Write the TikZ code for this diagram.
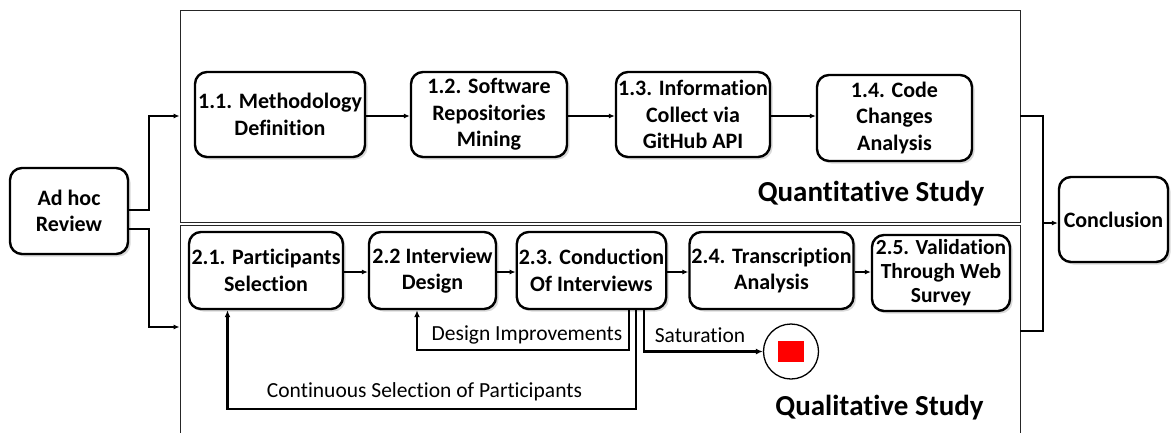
\documentclass[tikz,border=0pt]{standalone}
\usepackage{fontspec}
\setmainfont{Carlito}[RawFeature={-liga;-clig;-calt;-dlig}]
\usetikzlibrary{arrows.meta,shadows}
\begin{document}
\begin{tikzpicture}[x=1pt,y=-1pt,
  stepbox/.style={draw, line width=2.4pt, rounded corners=12pt, align=center, fill=white, inner sep=2pt,
     font=\fontsize{22}{26.5}\selectfont\bfseries,
     drop shadow={shadow xshift=2.5pt,shadow yshift=-2.5pt,opacity=0.3}},
  study/.style={draw=black!85, line width=0.9pt, inner sep=0pt},
  conn/.style={line width=1.1pt, -{Latex[length=6pt,width=5pt]}},
  plainline/.style={line width=1.1pt},
  loopline/.style={line width=2.2pt, -{Latex[length=7pt,width=6pt]}},
  lbl/.style={font=\fontsize{21.5}{26}\selectfont, inner sep=0pt},
  studytitle/.style={font=\fontsize{29}{34}\selectfont\bfseries, inner sep=0pt}
]
\useasboundingbox (0,0) rectangle (1171,432);

% study containers
\node[study, minimum width=840pt, minimum height=212pt] (quant) at (600,116) {};
\node[study, minimum width=840pt, minimum height=216pt] (qual) at (600,333) {};
\node[studytitle] (qtitle) at (871,194) {Quantitative Study};
\node[studytitle] (ltitle) at (879.5,408) {Qualitative Study};

% outer steps
\node[stepbox, minimum width=118pt, minimum height=86pt] (adhoc) at (69,211) {Ad hoc\\Review};
\node[stepbox, minimum width=109pt, minimum height=85pt] (concl) at (1113.5,219.5) {Conclusion};

% quantitative steps
\node[stepbox, minimum width=170pt, minimum height=85pt] (b11) at (280,114.5) {1.1. Methodology\\Definition};
\node[stepbox, minimum width=156pt, minimum height=85pt] (b12) at (489,114.5) {1.2. Software\\Repositories\\Mining};
\node[stepbox, minimum width=154pt, minimum height=85pt] (b13) at (693,114.5) {1.3. Information\\Collect via\\GitHub API};
\node[stepbox, minimum width=155pt, minimum height=86pt] (b14) at (894.5,118) {1.4. Code\\Changes\\Analysis};

% qualitative steps
\node[stepbox, minimum width=154pt, minimum height=77pt] (c21) at (266,270.5) {2.1. Participants\\Selection};
\node[stepbox, minimum width=127pt, minimum height=77pt] (c22) at (432.5,270.5) {2.2 Interview\\Design};
\node[stepbox, minimum width=149pt, minimum height=77pt] (c23) at (591.5,270.5) {2.3. Conduction\\Of Interviews};
\node[stepbox, minimum width=163pt, minimum height=77pt] (c24) at (771.5,270.5) {2.4. Transcription\\Analysis};
\node[stepbox, minimum width=138pt, minimum height=76pt, inner sep=1pt, font=\fontsize{21.5}{24}\selectfont\bfseries] (c25) at (941,273) {2.5. Validation\\Through Web\\Survey};

% end node
\node[draw, circle, line width=1.3pt, minimum size=55pt, inner sep=0pt, fill=white] (endc) at (791,351.5) {};
\node[fill=red, minimum width=26pt, minimum height=21pt, inner sep=0pt] (endsq) at (endc.center) {};

% coordinates for routing
\coordinate (lj) at (149,0);
\coordinate (qy) at (0,116);
\coordinate (ly) at (0,327);
\coordinate (rj) at (1043,223);
\coordinate (ry) at (0,331);
\coordinate (xd) at (629,350);
\coordinate (xd2) at (417,0);
\coordinate (xc) at (636,409);
\coordinate (xc2) at (227.5,0);
\coordinate (xs) at (644,0);

% from Ad hoc Review
\draw[conn] ([yshift=1pt]adhoc.east) -| (lj |- qy) -- (quant.west |- qy);
\draw[conn] ([yshift=-18pt]adhoc.east) -| (lj |- ly) -- (qual.west |- ly);

% to Conclusion
\draw[plainline] (quant.east |- qy) -| (rj);
\draw[plainline] (qual.east |- ry) -| (rj);
\draw[conn] (rj) -- (rj -| concl.west);

% quantitative flow
\draw[conn] (b11.east |- qy) -- (b12.west |- qy);
\draw[conn] (b12.east |- qy) -- (b13.west |- qy);
\draw[conn] (b13.east |- qy) -- (b14.west |- qy);

% qualitative flow
\coordinate (ry2) at (0,272);
\draw[conn] (c21.east |- ry2) -- (c22.west |- ry2);
\draw[conn] (c22.east |- ry2) -- (c23.west |- ry2);
\draw[conn] (c23.east |- ry2) -- (c24.west |- ry2);
\draw[conn] (c24.east |- ry2) -- (c25.west |- ry2);

% loops
\draw[loopline] (c23.south -| xd) -- (xd) -| (c22.south -| xd2);
\draw[loopline] (c23.south -| xc) -- (xc) -| (c21.south -| xc2);
\draw[loopline] (c23.south -| xs) |- (endc.west);

\node[lbl] (ldes) at (527,335) {Design Improvements};
\node[lbl] (lsat) at (700,335) {Saturation};
\node[lbl] (lcont) at (424.5,392) {Continuous Selection of Participants};
\end{tikzpicture}
\end{document}
